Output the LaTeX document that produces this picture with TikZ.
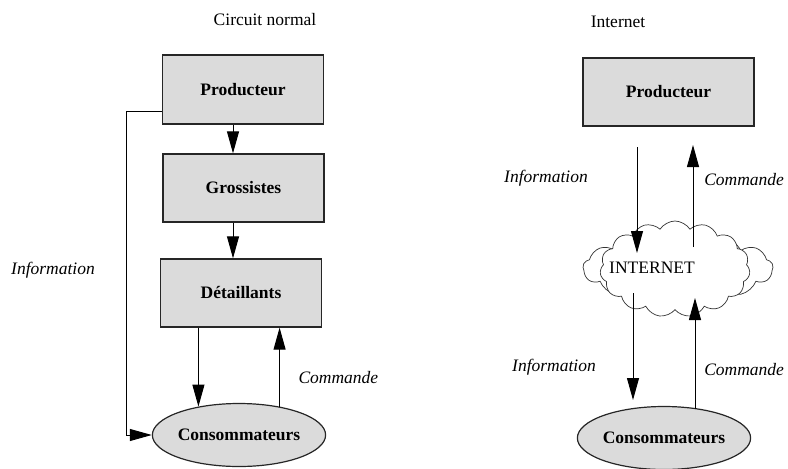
\documentclass[tikz,border=0pt]{standalone}
\usepackage{fontspec}
\setmainfont{Liberation Serif}
\usetikzlibrary{arrows.meta,shapes.geometric,shapes.symbols}
\tikzset{
  every node/.style={font=\fontsize{17.5}{20}\selectfont},
  stagebox/.style={draw=black!85, line width=1.3pt, fill=black!14, inner sep=0pt,
    font=\fontsize{17.5}{20}\selectfont\bfseries},
  consumer/.style={ellipse, draw=black!85, line width=1.2pt, fill=black!14, inner sep=0pt,
    minimum width=162pt, minimum height=63pt, font=\fontsize{17.5}{20}\selectfont\bfseries},
  flowlabel/.style={font=\fontsize{17.5}{20}\selectfont\itshape},
  arr/.style={draw=black, line width=1pt, -{Triangle[length=22pt,width=12pt]}},
  puff/.style={cloud, cloud puffs=13, cloud puff arc=115, draw=black!80, line width=0.7pt, fill=white, inner sep=0pt},
}
\begin{document}
\begin{tikzpicture}[x=1pt,y=-1pt]
\useasboundingbox (0,0) rectangle (788,469);

% ---------- traditional distribution chain ----------
\node (titleL) at (265,20) {Circuit normal};
\node[stagebox, minimum width=161pt, minimum height=69pt] (prodL) at (243,89.5) {Producteur};
\node[stagebox, minimum width=161pt, minimum height=68pt] (grosL) at (243.5,188) {Grossistes};
\node[stagebox, minimum width=161pt, minimum height=68pt] (detL) at (241,293) {Détaillants};
\node[consumer] (consL) at (239,435) {Consommateurs};

\draw[arr] ([xshift=-10pt]prodL.south) -- ([xshift=-10.5pt]grosL.north);
\draw[arr] ([xshift=-10.5pt]grosL.south) -- ([xshift=-8pt]detL.north);
\draw[arr] (detL.south -| consL.145) -- (consL.145);
\draw[arr] (consL.35) -- (consL.35 |- detL.south);
\draw[arr] ([yshift=-22pt]prodL.west) -- ++(-35,0) |- (consL.west);

\node[flowlabel] (infoL) at (53,270) {Information};
\node[flowlabel, anchor=west] (cmdL) at (295,378) {Commande};

% ---------- distribution through the network ----------
\node (titleR) at (618,22) {Internet};
\node[stagebox, minimum width=171pt, minimum height=68pt] (prodR) at (668.5,92) {Producteur};

\node[puff, minimum width=190pt, minimum height=70pt] (cloudB) at (678,268) {};
\node[puff, cloud puffs=15, minimum width=150pt, minimum height=96pt] (cloudF) at (675,269) {};
\node (inet) at (652,268) {INTERNET};

\node[consumer] (consR) at (664,438) {Consommateurs};

\coordinate (inTop) at (637,147);
\coordinate (inMid) at (637,253);
\coordinate (outMid) at (693,247);
\coordinate (outTop) at (693,145);
\coordinate (inLow) at (633,293);
\coordinate (inEnd) at (633,400);
\coordinate (outLow) at (695,298);

\draw[arr] (inTop) -- (inMid);
\draw[arr] (outMid) -- (outTop);
\draw[arr] (inLow) -- (inEnd);
\draw[arr] (consR.north -| outLow) ++(0,3) -- (outLow);

\node[flowlabel] (infoR1) at (546,178) {Information};
\node[flowlabel, anchor=east] (cmdR1) at (787.5,180) {Commande};
\node[flowlabel] (infoR2) at (554,367) {Information};
\node[flowlabel, anchor=east] (cmdR2) at (787.5,370) {Commande};
\end{tikzpicture}
\end{document}
